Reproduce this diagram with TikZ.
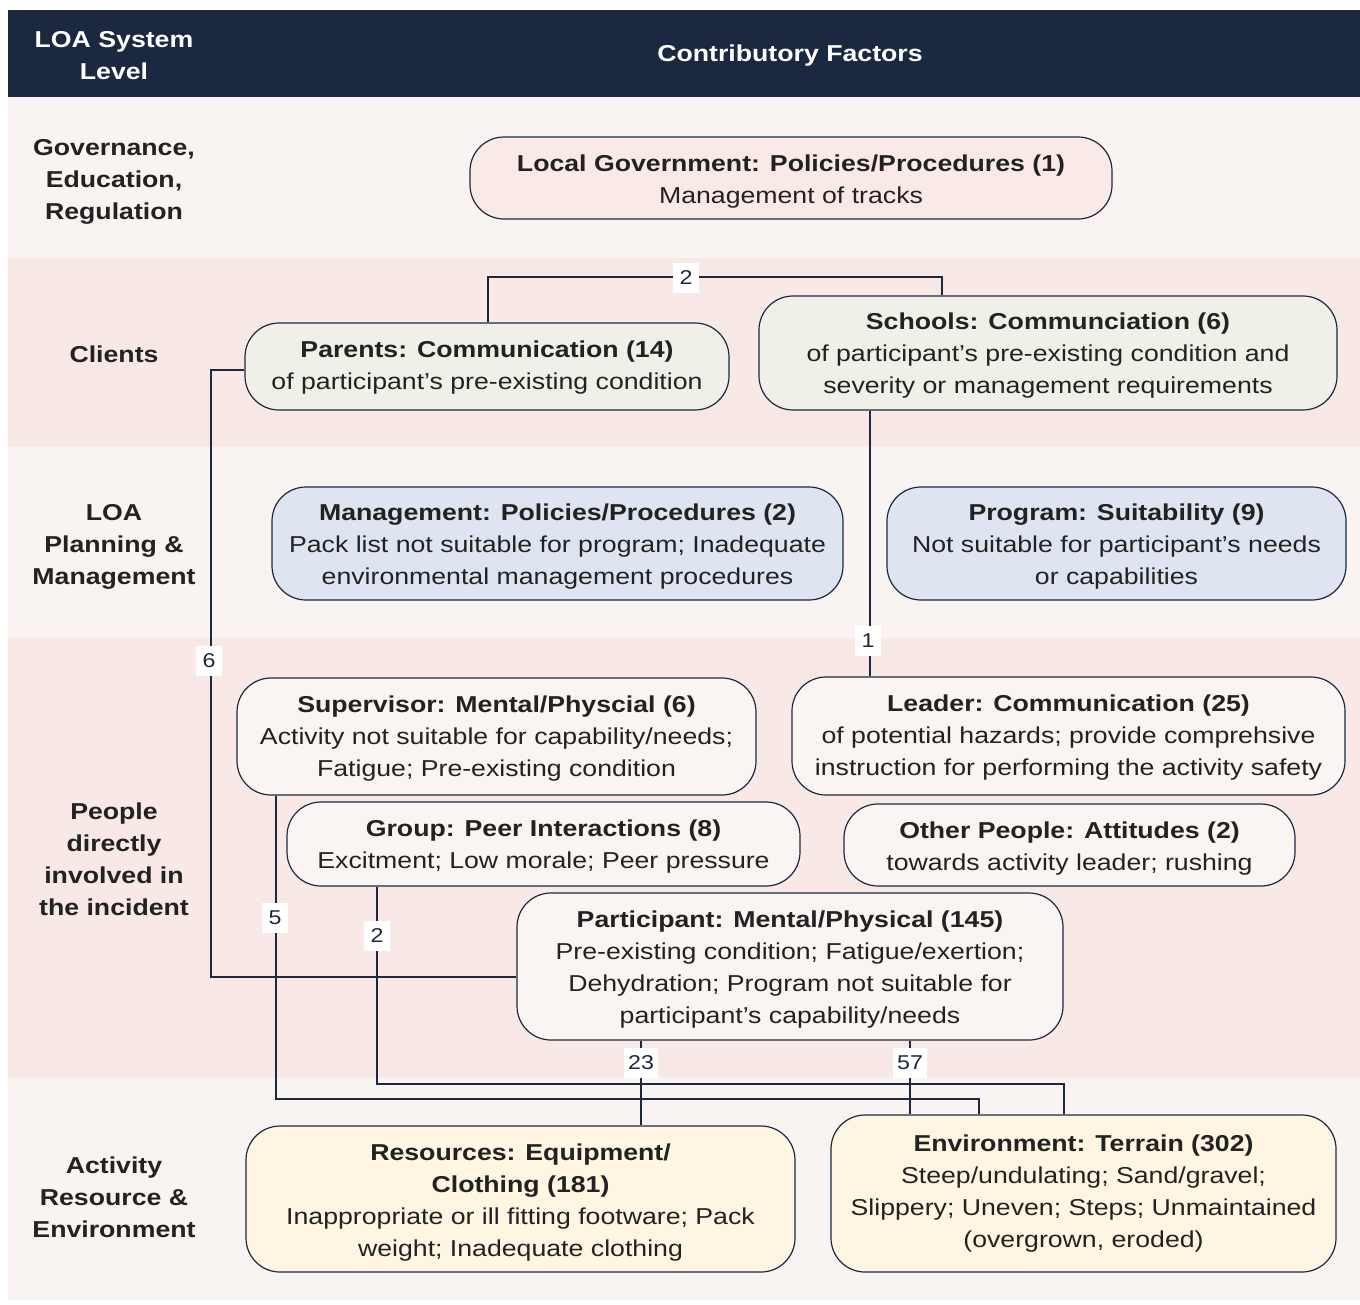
\documentclass[tikz,border=0pt]{standalone}
\usepackage{fontspec}
\setmainfont{Liberation Sans}[FakeStretch=1.16]
\definecolor{navy}{RGB}{27,40,64}
\definecolor{txt}{RGB}{34,34,34}
\definecolor{bandlight}{RGB}{249,244,242}
\definecolor{bandpink}{RGB}{248,233,230}
\definecolor{fpink}{RGB}{250,234,231}
\definecolor{fgreen}{RGB}{240,240,232}
\definecolor{fblue}{RGB}{222,228,240}
\definecolor{flight}{RGB}{250,245,243}
\definecolor{fcream}{RGB}{254,245,226}
\newcommand\myfs{\fontsize{23}{32}\selectfont}
\newcommand\mylabfs{\fontsize{20}{24}\selectfont}
\tikzset{
  box/.style={draw=navy, line width=1.2pt, rounded corners=34pt, inner sep=0pt},
  btxt/.style={align=center, inner sep=0pt, text=txt, font=\myfs},
  lvl/.style={align=center, text=txt, font=\myfs\bfseries},
  conn/.style={draw=navy, line width=1.2pt},
  lab/.style={fill=white, text=navy, font=\mylabfs, inner xsep=4pt, inner ysep=0pt, minimum height=30pt, minimum width=26pt},
}
\begin{document}
\begin{tikzpicture}[x=1pt,y=-1pt]
\useasboundingbox (0,0) rectangle (1360,1304);
\fill[white] (0,0) rectangle (1360,1304);
% bands
\fill[navy] (8,10) rectangle (1360,97);
\fill[bandlight] (8,97) rectangle (1360,258);
\fill[bandpink] (8,258) rectangle (1360,447);
\fill[bandlight] (8,447) rectangle (1360,638);
\fill[bandpink] (8,638) rectangle (1360,1078);
\fill[bandlight] (8,1078) rectangle (1360,1300);
% header
\node[lvl, text=white] (h1) at (114,55.5) {LOA System\\Level};
\node[lvl, text=white] (h2) at (790,55.5) {Contributory Factors};
% level labels
\node[lvl] (l1) at (114,182) {Governance,\\Education,\\Regulation};
\node[lvl] (l2) at (114,354) {Clients};
\node[lvl] (l3) at (114,547) {LOA\\Planning \&\\Management};
\node[lvl] (l4) at (114,859.5) {People\\directly\\involved in\\the incident};
\node[lvl] (l5) at (114,1197) {Activity\\Resource \&\\Environment};
% boxes
\node[box, fill=fpink, minimum width=642pt, minimum height=82pt] (gov) at (791,178) {};
\node[box, fill=fgreen, minimum width=484pt, minimum height=87pt] (par) at (487,366.5) {};
\node[box, fill=fgreen, minimum width=578pt, minimum height=114pt] (sch) at (1048,353) {};
\node[box, fill=fblue, minimum width=571pt, minimum height=113pt] (man) at (557.5,543.5) {};
\node[box, fill=fblue, minimum width=459pt, minimum height=113pt] (prog) at (1116.5,543.5) {};
\node[box, fill=flight, minimum width=519pt, minimum height=117pt] (sup) at (496.5,736.5) {};
\node[box, fill=flight, minimum width=553pt, minimum height=118pt] (lead) at (1068.5,736) {};
\node[box, fill=flight, minimum width=513pt, minimum height=84pt] (grp) at (543.5,844) {};
\node[box, fill=flight, minimum width=451pt, minimum height=82pt] (oth) at (1069.5,845) {};
\node[box, fill=flight, minimum width=546pt, minimum height=147pt] (part) at (790,966.5) {};
\node[box, fill=fcream, minimum width=549pt, minimum height=146pt] (res) at (520.5,1199) {};
\node[box, fill=fcream, minimum width=505pt, minimum height=157pt] (env) at (1083.5,1193.5) {};
% box texts
\node[btxt] (govt) at ([yshift=-3.5pt]gov.center)
  {\textbf{Local Government: Policies/Procedures (1)}\\Management of tracks};
\node[btxt] (part1) at ([yshift=-1.5pt]par.center)
  {\textbf{Parents: Communication (14)}\\of participant’s pre-existing condition};
\node[btxt] (scht) at ([yshift=-3pt]sch.center)
  {\textbf{Schools: Communciation (6)}\\of participant’s pre-existing condition and\\severity or management requirements};
\node[btxt] (mant) at ([yshift=-3pt]man.center)
  {\textbf{Management: Policies/Procedures (2)}\\Pack list not suitable for program; Inadequate\\environmental management procedures};
\node[btxt] (progt) at ([yshift=-3pt]prog.center)
  {\textbf{Program: Suitability (9)}\\Not suitable for participant’s needs\\or capabilities};
\node[btxt] (supt) at ([yshift=-2pt]sup.center)
  {\textbf{Supervisor: Mental/Physcial (6)}\\Activity not suitable for capability/needs;\\Fatigue; Pre-existing condition};
\node[btxt] (leadt) at ([yshift=-2pt]lead.center)
  {\textbf{Leader: Communication (25)}\\of potential hazards; provide comprehsive\\instruction for performing the activity safety};
\node[btxt] (grpt) at ([yshift=-3pt]grp.center)
  {\textbf{Group: Peer Interactions (8)}\\Excitment; Low morale; Peer pressure};
\node[btxt] (otht) at ([yshift=-3.5pt]oth.center)
  {\textbf{Other People: Attitudes (2)}\\towards activity leader; rushing};
\node[btxt] (partt) at ([yshift=-3pt]part.center)
  {\textbf{Participant: Mental/Physical (145)}\\Pre-existing condition; Fatigue/exertion;\\Dehydration; Program not suitable for\\participant’s capability/needs};
\node[btxt] (rest) at ([yshift=-3.5pt]res.center)
  {\textbf{Resources: Equipment/}\\\textbf{Clothing (181)}\\Inappropriate or ill fitting footware; Pack\\weight; Inadequate clothing};
\node[btxt] (envt) at ([yshift=0pt]env.center)
  {\textbf{Environment: Terrain (302)}\\Steep/undulating; Sand/gravel;\\Slippery; Uneven; Steps; Unmaintained\\(overgrown, eroded)};
% connectors
\draw[conn] (488,0 |- par.north) -- (488,277) -- (942,277) -- (942,0 |- sch.north);
\draw[conn] (par.west |- 0,370) -- (211,370) -- (211,977) -- (part.west |- 0,977);
\draw[conn] (870,0 |- sch.south) -- (870,0 |- lead.north);
\draw[conn] (276,0 |- sup.south) -- (276,1099) -- (979,1099) -- (979,0 |- env.north);
\draw[conn] (377,0 |- grp.south) -- (377,1084) -- (1064,1084) -- (1064,0 |- env.north);
\draw[conn] (641,0 |- part.south) -- (641,0 |- res.north);
\draw[conn] (910,0 |- part.south) -- (910,0 |- env.north);
% labels
\node[lab] (n2a) at (686,277.5) {2};
\node[lab] (n6) at (209,660.5) {6};
\node[lab] (n1) at (868,640.5) {1};
\node[lab] (n5) at (275,917.5) {5};
\node[lab] (n2b) at (377,935.5) {2};
\node[lab] (n23) at (641,1062.5) {23};
\node[lab] (n57) at (910,1062.5) {57};
\end{tikzpicture}
\end{document}
